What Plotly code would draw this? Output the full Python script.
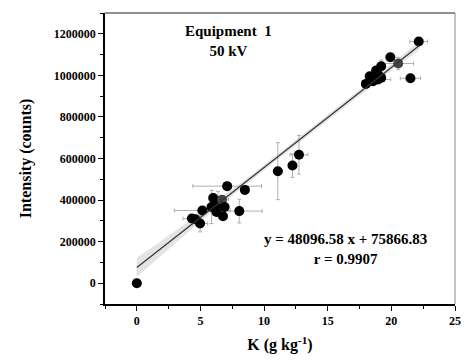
import plotly.graph_objects as go

# Data
K = [0, 4.33, 4.6, 4.97, 5.15, 5.87, 6.0, 6.26, 6.38, 6.69, 6.77, 6.9, 7.1, 8.05, 8.49,
     11.08, 12.23, 12.74, 18.0, 18.3, 18.56, 18.8, 18.95, 18.95, 19.2, 19.2, 19.92, 20.54, 21.5, 22.15]
intensity = [0, 311000, 308000, 287000, 350000, 367000, 410000, 343000, 382000, 402000, 322000,
             367000, 467000, 347000, 449000, 539000, 566000, 618000, 959000, 996000, 972000,
             1023000, 980000, 1004000, 1044000, 988000, 1087000, 1057000, 986000, 1163000]
K_err = [0, 0.7, 0.4, 0.6, 2.2, 0, 0.3, 0, 0, 0.5, 0, 0, 2.7, 1.8, 0.3,
         0.2, 0, 0.7, 0.3, 0, 0, 0, 1.0, 0, 0, 0, 0, 1.2, 0.8, 0.7]
I_err = [0, 15000, 20000, 40000, 0, 80000, 0, 0, 60000, 0, 0, 0, 20000, 57000, 20000,
         137000, 57000, 93000, 0, 0, 0, 0, 0, 0, 30000, 0, 0, 30000, 0, 0]
marker_colors = ["#000000"] * len(K)
marker_colors[9] = "#444444"
marker_colors[27] = "#444444"

slope = 48096.58
intercept = 75866.83
fit_x = [0, 22.2]
band_x = [0, 5, 10, 15, 20, 22.2]
band_half = [45000, 20000, 12000, 12000, 16000, 20000]

x_ticks = [0, 5, 10, 15, 20, 25]
y_ticks = [0, 200000, 400000, 600000, 800000, 1000000, 1200000]

font_family = "Liberation Serif"

fig = go.Figure()

# confidence band
upper = [slope * x + intercept + h for x, h in zip(band_x, band_half)]
lower = [slope * x + intercept - h for x, h in zip(band_x, band_half)]
fig.add_trace(go.Scatter(x=band_x + band_x[::-1], y=upper + lower[::-1], fill="toself",
                         fillcolor="rgba(200,200,200,0.5)", line=dict(width=0),
                         mode="lines", hoverinfo="skip", showlegend=False))

# points with error bars
fig.add_trace(go.Scatter(x=K, y=intensity, mode="markers",
                         marker=dict(size=10, color=marker_colors),
                         error_x=dict(type="data", array=K_err, color="#b0b0b0", thickness=1, width=2),
                         error_y=dict(type="data", array=I_err, color="#b0b0b0", thickness=1, width=2),
                         showlegend=False))

# fit line
fig.add_trace(go.Scatter(x=fit_x, y=[slope * x + intercept for x in fit_x], mode="lines",
                         line=dict(color="#333333", width=1.2), showlegend=False))

axis_font = dict(family=font_family, size=12, color="black", weight="bold")

fig.update_xaxes(range=[-2.5, 25], tickvals=x_ticks, ticktext=[str(v) for v in x_ticks],
                 showgrid=False, zeroline=False, showline=True, linecolor="black", linewidth=1.5,
                 ticks="outside", ticklen=5, tickwidth=1, tickcolor="black", tickfont=axis_font,
                 minor=dict(dtick=2.5, ticks="outside", ticklen=3, tickcolor="black", showgrid=False),
                 title=dict(text="K (g kg<sup>-1</sup>)", font=dict(family=font_family, size=16,
                            color="black", weight="bold"), standoff=12))
fig.update_yaxes(range=[-100000, 1300000], tickvals=y_ticks, ticktext=[str(v) for v in y_ticks],
                 showgrid=False, zeroline=False, showline=True, linecolor="black", linewidth=1.5,
                 ticks="outside", ticklen=5, tickwidth=1, tickcolor="black", tickfont=axis_font,
                 minor=dict(dtick=100000, ticks="outside", ticklen=3, tickcolor="black", showgrid=False),
                 title=dict(text="Intensity (counts)", font=dict(family=font_family, size=16,
                            color="black", weight="bold"), standoff=18))

fig.add_shape(type="line", xref="paper", yref="paper", x0=0, x1=1, y0=1, y1=1,
              line=dict(color="#222222", width=1))
fig.add_shape(type="line", xref="paper", yref="paper", x0=1, x1=1, y0=0, y1=1,
              line=dict(color="#888888", width=1))

ann_font = dict(family=font_family, size=15, color="black", weight="bold")
fig.add_annotation(x=7.2, y=1167000, text="Equipment  1<br>50 kV", showarrow=False,
                   font=ann_font, xref="x", yref="y")
fig.add_annotation(x=16.4, y=167000, text="y = 48096.58 x + 75866.83<br>r = 0.9907", showarrow=False,
                   font=ann_font, xref="x", yref="y")

fig.update_layout(width=470, height=360, margin=dict(l=105, r=9, t=13, b=54),
                  plot_bgcolor="white", paper_bgcolor="white")

fig.write_html("out.html")
